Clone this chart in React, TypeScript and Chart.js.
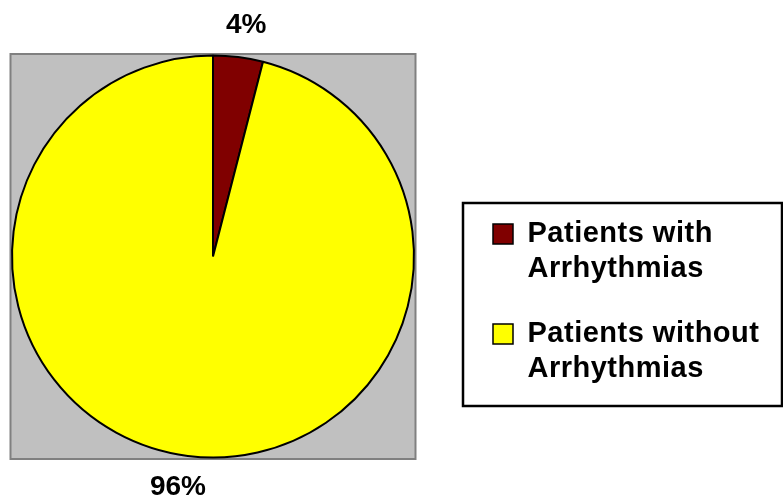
import { useEffect, useRef } from "react";
import { Chart, registerables } from "chart.js";

Chart.register(...registerables);

// ---- data ----
const categories: string[][] = [
  ["Patients with", "Arrhythmias"],
  ["Patients without", "Arrhythmias"],
];
const values: number[] = [4, 96];
const sliceColors: string[] = ["#800000", "#FFFF00"];

const FONT = '"Liberation Sans", Arial, Helvetica, sans-serif';

const plotAreaPlugin = {
  id: "plotArea",
  beforeDraw(chart: any) {
    chart.ctx.letterSpacing = "0.5px";
  },
  beforeDatasetsDraw(chart: any) {
    const ctx = chart.ctx;
    ctx.letterSpacing = "0px";
    const arc = chart.getDatasetMeta(0).data[0];
    if (!arc) return;
    const { x, y, outerRadius } = arc.getProps(["x", "y", "outerRadius"], true);
    const h = outerRadius + 1.5;
    ctx.save();
    ctx.fillStyle = "#C0C0C0";
    ctx.fillRect(x - h, y - h, 2 * h, 2 * h);
    ctx.strokeStyle = "#808080";
    ctx.lineWidth = 2;
    ctx.strokeRect(x - h, y - h, 2 * h, 2 * h);
    ctx.restore();
  },
};

const pctLabelPlugin = {
  id: "pctLabels",
  afterDatasetsDraw(chart: any) {
    const ctx = chart.ctx;
    const meta = chart.getDatasetMeta(0);
    const data: number[] = chart.data.datasets[0].data;
    const total = data.reduce((a, b) => a + b, 0);
    ctx.save();
    ctx.letterSpacing = "0px";
    ctx.font = `bold 28px ${FONT}`;
    ctx.fillStyle = "#000";
    ctx.textAlign = "center";
    ctx.textBaseline = "middle";
    meta.data.forEach((arc: any, i: number) => {
      const { x, y, startAngle, endAngle, outerRadius } = arc.getProps(
        ["x", "y", "startAngle", "endAngle", "outerRadius"],
        true
      );
      const mid = (startAngle + endAngle) / 2;
      const ux = Math.cos(mid);
      const uy = Math.sin(mid);
      const text = Math.round((data[i] / total) * 100) + "%";
      const w = ctx.measureText(text).width;
      const hh = 18;
      const d = outerRadius + 23;
      const cx = x + ux * d + ux * w;
      const cy = y + uy * d + (uy * hh) / 2;
      ctx.fillText(text, cx, cy);
    });
    ctx.restore();
  },
};

const legendBoxPlugin = {
  id: "legendBox",
  afterLayout(chart: any) {
    const lg = chart.legend;
    if (!lg) return;
    lg.left = 463;
    lg.top = 203;
    lg.right = 782;
    lg.bottom = 406;
    lg.width = lg.right - lg.left;
    lg.height = lg.bottom - lg.top;
  },
  afterDraw(chart: any) {
    const lg = chart.legend;
    if (!lg) return;
    const ctx = chart.ctx;
    ctx.save();
    ctx.strokeStyle = "#000";
    ctx.lineWidth = 2.5;
    ctx.strokeRect(lg.left, lg.top, lg.right - lg.left, lg.bottom - lg.top);
    ctx.restore();
  },
};

export default function App() {
  const ref = useRef<HTMLCanvasElement>(null);

  useEffect(() => {
    if (!ref.current) return;
    const chart = new Chart(ref.current, {
      type: "pie",
      data: {
        labels: categories as any,
        datasets: [
          {
            data: values,
            backgroundColor: sliceColors,
            borderColor: "#000000",
            borderWidth: 2,
            hoverOffset: 0,
          },
        ],
      },
      options: {
        responsive: false,
        animation: false,
        layout: { padding: { left: 11, right: 368, top: 54, bottom: 45 } },
        plugins: {
          legend: {
            position: "chartArea" as any,
            align: "center",
            labels: {
              color: "#000",
              font: { family: FONT, size: 29, weight: "bold", lineHeight: "35px" },
              boxWidth: 20,
              boxHeight: 20,
              padding: 30,
              generateLabels(c: any) {
                const base = (Chart as any).overrides.pie.plugins.legend.labels.generateLabels(c);
                return base.map((it: any) => ({ ...it, strokeStyle: "#000", lineWidth: 1.5 }));
              },
            },
          },
          tooltip: { enabled: false },
        },
      },
      plugins: [plotAreaPlugin, pctLabelPlugin, legendBoxPlugin],
    });
    return () => chart.destroy();
  }, []);

  return (
    <div style={{ position: "absolute", left: 0, top: 0, width: 783, height: 504, background: "#fff" }}>
      <canvas ref={ref} width={783} height={504} style={{ display: "block" }} />
    </div>
  );
}
